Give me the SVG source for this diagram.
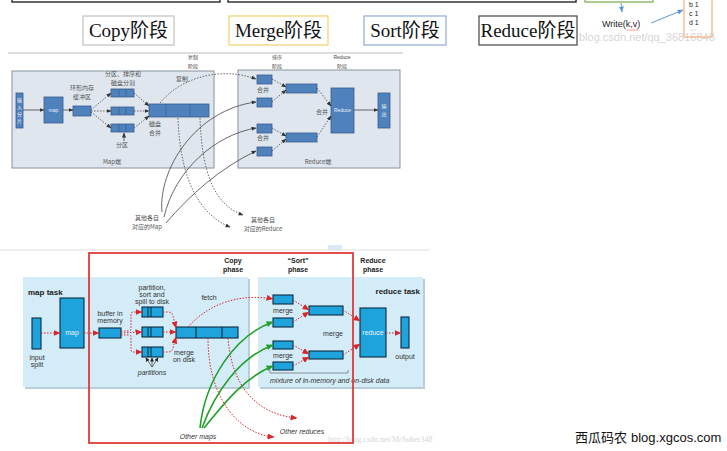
<svg xmlns="http://www.w3.org/2000/svg" width="727" height="451" viewBox="0 0 727 451">
<style>
.zh{font-family:"Liberation Serif","Noto Sans CJK SC",serif;fill:#111}
.big{font-size:19px;text-anchor:middle}
.s6{font-family:"Noto Sans CJK SC","Liberation Sans",sans-serif;font-size:6px;fill:#555;text-anchor:middle}
.s5{font-family:"Liberation Sans","Noto Sans CJK SC",sans-serif;font-size:5px;fill:#444;text-anchor:middle}
.pan1{fill:#dfe6ee;stroke:#8a929c;stroke-width:1}
.b1{fill:#4f81bd;stroke:#385d8a;stroke-width:0.8}
.w1{font-family:"Liberation Sans","Noto Sans CJK SC",sans-serif;font-size:5px;fill:#e8eef8;text-anchor:middle}
.gs{fill:none;stroke:#444;stroke-width:0.8}
.gd{fill:none;stroke:#444;stroke-width:0.8;stroke-dasharray:1.5 1.5}
.pan2{fill:#d3ecf8;stroke:none}
.b2{fill:#1fa3dc;stroke:#0d2b3e;stroke-width:1.1}
.en{font-family:"Liberation Sans Narrow","Liberation Sans",sans-serif;font-size:7px;fill:#333;text-anchor:middle}
.bold{font-weight:bold;fill:#222}
.it{font-style:italic}
.rd{fill:none;stroke:#d9262a;stroke-width:1;stroke-dasharray:1.5 1.5}
.gr{fill:none;stroke:#22a02a;stroke-width:1.6}
.kv{font-family:"Liberation Sans",sans-serif;font-size:7px;fill:#222}
</style>
<defs>
<marker id="ag" markerWidth="5" markerHeight="4" refX="4.5" refY="2" orient="auto" markerUnits="userSpaceOnUse"><path d="M0,0 L5,2 L0,4 z" fill="#333"/></marker>
<marker id="ar" markerWidth="7" markerHeight="6" refX="6.5" refY="3" orient="auto" markerUnits="userSpaceOnUse"><path d="M0,0 L7,3 L0,6 z" fill="#d9262a"/></marker>
<marker id="agr" markerWidth="7" markerHeight="6" refX="6.5" refY="3" orient="auto" markerUnits="userSpaceOnUse"><path d="M0,0 L7,3 L0,6 z" fill="#22a02a"/></marker>
<marker id="ab" markerWidth="6" markerHeight="5" refX="5.5" refY="2.5" orient="auto" markerUnits="userSpaceOnUse"><path d="M0,0 L6,2.5 L0,5 z" fill="#5b9bd5"/></marker>
<marker id="ak" markerWidth="4" markerHeight="4" refX="3.5" refY="2" orient="auto" markerUnits="userSpaceOnUse"><path d="M0,0 L4,2 L0,4 z" fill="#222"/></marker>
</defs>
<rect width="727" height="451" fill="#fff"/>

<!-- top strip -->
<g id="top-strip">
<rect x="12" y="-20" width="208" height="22" fill="#fff" stroke="#333" stroke-width="1.5"/>
<rect x="228" y="-20" width="348" height="22" fill="#fff" stroke="#333" stroke-width="1.5"/>
<rect x="585" y="-20" width="68" height="22" fill="#fff" stroke="#70ad47" stroke-width="1.2"/>
<text x="579" y="41" font-family="Liberation Sans,sans-serif" font-size="11" fill="#d6d6d6">blog.csdn.net/qq_36816848</text>
<rect x="684" y="-10" width="28" height="47" fill="none" stroke="#f4b183" stroke-width="1.2"/>
<text class="kv" x="689" y="7">b 1</text>
<text class="kv" x="689" y="16">c 1</text>
<text class="kv" x="689" y="25">d 1</text>
<g fill="#aaa"><circle cx="691" cy="30" r="0.5"/><circle cx="693" cy="30" r="0.5"/><circle cx="695" cy="30" r="0.5"/></g>
<line x1="621" y1="3" x2="622" y2="12" stroke="#5b9bd5" stroke-width="1" marker-end="url(#ab)"/>
<line x1="651" y1="23" x2="683" y2="10" stroke="#5b9bd5" stroke-width="1" marker-end="url(#ab)"/>
<text x="602" y="27" font-family="Liberation Sans,sans-serif" font-size="9" fill="#222">Write(k,v)</text>
<path d="M626,29.5 l1,1 l1,-1 l1,1 l1,-1 l1,1 l1,-1 l1,1 l1,-1 l1,1 l1,-1 l1,1 l1,-1 l1,1" fill="none" stroke="#e33" stroke-width="0.5"/>
</g>
<g id="phase-copy"><rect x="83" y="16" width="91" height="29" fill="#fff" stroke="#c0c0c0" stroke-width="1.2"/><text class="zh big" x="128.5" y="37">Copy阶段</text></g>
<g id="phase-merge"><rect x="229" y="16" width="99" height="29" fill="#fff" stroke="#f2d06b" stroke-width="1.2"/><text class="zh big" x="278.5" y="37">Merge阶段</text></g>
<g id="phase-sort"><rect x="364" y="16" width="82" height="29" fill="#fff" stroke="#8eaadb" stroke-width="1.2"/><text class="zh big" x="405" y="37">Sort阶段</text></g>
<g id="phase-reduce"><rect x="479" y="16" width="98" height="29" fill="#fff" stroke="#444" stroke-width="1.2"/><text class="zh big" x="528" y="37">Reduce阶段</text></g>
<line x1="8" y1="53" x2="403" y2="53" stroke="#bbb" stroke-width="1"/>

<!-- Chinese diagram -->
<g id="cn-labels">
<text class="s5" x="193" y="59">复制</text><text class="s5" x="193" y="68">阶段</text>
<text class="s5" x="277" y="59">排序</text><text class="s5" x="277" y="68">阶段</text>
<text class="s5" x="342" y="59">Reduce</text><text class="s5" x="342" y="68">阶段</text>
</g>
<g id="cn-map-panel"><rect class="pan1" x="12" y="71" width="202" height="97"/><text class="s6" x="112" y="164">Map端</text></g>
<g id="cn-reduce-panel"><rect class="pan1" x="238" y="70" width="162" height="98"/><text class="s6" x="318" y="164">Reduce端</text></g>
<g id="cn-input"><rect class="b1" x="16" y="93" width="7" height="35"/><text class="w1" x="19.5" y="102">输</text><text class="w1" x="19.5" y="109">入</text><text class="w1" x="19.5" y="116">分</text><text class="w1" x="19.5" y="123">片</text></g>
<g id="cn-map"><rect class="b1" x="44" y="97" width="19" height="26"/><text class="w1" x="53.5" y="112">map</text></g>
<g id="cn-buffer"><rect class="b1" x="73" y="106" width="18" height="10"/><text class="s6" x="82" y="90">环形内存</text><text class="s6" x="82" y="99">缓冲区</text></g>
<g id="cn-parts">
<text class="s6" x="123" y="76">分区、排序和</text><text class="s6" x="123" y="85">磁盘分割</text>
<rect class="b1" x="111" y="89" width="23" height="8"/><line x1="119" y1="89" x2="119" y2="97" stroke="#385d8a" stroke-width="0.6"/><line x1="126" y1="89" x2="126" y2="97" stroke="#385d8a" stroke-width="0.6"/>
<rect class="b1" x="111" y="107" width="23" height="8"/><line x1="119" y1="107" x2="119" y2="115" stroke="#385d8a" stroke-width="0.6"/><line x1="126" y1="107" x2="126" y2="115" stroke="#385d8a" stroke-width="0.6"/>
<rect class="b1" x="111" y="124" width="23" height="8"/><line x1="119" y1="124" x2="119" y2="132" stroke="#385d8a" stroke-width="0.6"/><line x1="126" y1="124" x2="126" y2="132" stroke="#385d8a" stroke-width="0.6"/>
<text class="s6" x="122" y="147">分区</text>
</g>
<g id="cn-merged"><rect class="b1" x="149" y="104" width="60" height="13"/><line x1="166" y1="104" x2="166" y2="117" stroke="#385d8a" stroke-width="0.6"/><line x1="190" y1="104" x2="190" y2="117" stroke="#385d8a" stroke-width="0.6"/><text class="s6" x="155" y="126">磁盘</text><text class="s6" x="155" y="135">合并</text><text class="s6" x="182" y="81">复制</text></g>
<g id="cn-r-small">
<rect class="b1" x="257" y="75" width="15" height="9"/><rect class="b1" x="257" y="98" width="15" height="9"/>
<rect class="b1" x="257" y="124" width="15" height="9"/><rect class="b1" x="257" y="147" width="15" height="9"/>
<text class="s6" x="263" y="92">合并</text><text class="s6" x="263" y="140">合并</text>
</g>
<g id="cn-r-mid"><rect class="b1" x="286" y="84" width="31" height="9"/><rect class="b1" x="286" y="133" width="31" height="9"/><text class="s6" x="322" y="114">合并</text></g>
<g id="cn-reduce"><rect class="b1" x="331" y="88" width="23" height="45"/><text class="w1" x="342.5" y="112">Reduce</text></g>
<g id="cn-output"><rect class="b1" x="378" y="93" width="12" height="35"/><text class="w1" x="384" y="108">输</text><text class="w1" x="384" y="116">出</text></g>
<g id="cn-others"><text class="s6" x="147" y="220">其他各自</text><text class="s6" x="147" y="229">对应的Map</text><text class="s6" x="263" y="222">其他各自</text><text class="s6" x="263" y="231">对应的Reduce</text></g>

<g id="cn-connectors">
<line class="gs" x1="23" y1="110" x2="44" y2="110" marker-end="url(#ag)"/>
<line class="gs" x1="63" y1="110" x2="73" y2="110" marker-end="url(#ag)"/>
<line class="gd" x1="91" y1="110" x2="111" y2="93" marker-end="url(#ag)"/>
<line class="gd" x1="91" y1="111" x2="111" y2="111" marker-end="url(#ag)"/>
<line class="gd" x1="91" y1="112" x2="111" y2="128" marker-end="url(#ag)"/>
<line class="gd" x1="134" y1="93" x2="149" y2="106" marker-end="url(#ag)"/>
<line class="gd" x1="134" y1="111" x2="149" y2="111" marker-end="url(#ag)"/>
<line class="gd" x1="134" y1="128" x2="149" y2="116" marker-end="url(#ag)"/>
<line class="gs" x1="124" y1="141" x2="124" y2="133" marker-end="url(#ag)"/>
<path class="gd" d="M160,103 C180,78 220,66 256,79" marker-end="url(#ag)"/>
<line class="gd" x1="272" y1="79" x2="286" y2="87" marker-end="url(#ag)"/>
<line class="gd" x1="272" y1="102" x2="286" y2="90" marker-end="url(#ag)"/>
<line class="gd" x1="272" y1="128" x2="286" y2="136" marker-end="url(#ag)"/>
<line class="gd" x1="272" y1="151" x2="286" y2="139" marker-end="url(#ag)"/>
<line class="gd" x1="317" y1="88" x2="331" y2="106" marker-end="url(#ag)"/>
<line class="gd" x1="317" y1="137" x2="331" y2="116" marker-end="url(#ag)"/>
<line class="gs" x1="354" y1="110" x2="378" y2="110" marker-end="url(#ag)"/>
<path class="gs" d="M162,212 C158,170 195,110 256,102" marker-end="url(#ag)"/>
<path class="gs" d="M164,217 C175,170 215,135 256,128" marker-end="url(#ag)"/>
<path class="gs" d="M166,223 C190,195 220,168 256,151" marker-end="url(#ag)"/>
<path class="gd" d="M178,118 C180,180 200,215 230,227" marker-end="url(#ag)"/>
<path class="gd" d="M200,118 C202,175 215,205 243,215" marker-end="url(#ag)"/>
</g>

<!-- English diagram -->
<line x1="0" y1="250" x2="430" y2="250" stroke="#ddd" stroke-width="1"/>
<rect x="328" y="245" width="14" height="5" fill="#dbe8f5"/>
<g id="en-map-task"><rect x="25" y="279" width="225" height="110" fill="#b9cdd8"/><rect class="pan2" x="23" y="277" width="225" height="110"/><text class="en bold" x="28" y="295" style="text-anchor:start;font-size:8px">map task</text></g>
<g id="en-reduce-task"><rect x="260" y="279" width="165" height="110" fill="#b9cdd8"/><rect class="pan2" x="258" y="277" width="165" height="110"/><text class="en bold" x="420" y="294" style="text-anchor:end;font-size:8px">reduce task</text></g>
<g id="en-phase-labels">
<text class="en bold" x="233" y="263">Copy</text><text class="en bold" x="233" y="272">phase</text>
<text class="en bold" x="298" y="263">“Sort”</text><text class="en bold" x="298" y="272">phase</text>
<text class="en bold" x="373" y="263">Reduce</text><text class="en bold" x="373" y="272">phase</text>
</g>
<g id="en-input"><rect class="b2" x="32" y="318" width="9" height="31"/><text class="en" x="37" y="360">input</text><text class="en" x="37" y="367">split</text></g>
<g id="en-map"><rect class="b2" x="60" y="298" width="24" height="50"/><text class="en" x="72" y="335" style="fill:#e8f6ff">map</text></g>
<g id="en-buffer"><rect class="b2" x="99" y="328" width="22" height="10"/><text class="en" x="110" y="316">buffer in</text><text class="en" x="110" y="323">memory</text></g>
<g id="en-spills">
<text class="en" x="152" y="290">partition,</text><text class="en" x="152" y="297">sort and</text><text class="en" x="152" y="304">spill to disk</text>
<rect class="b2" x="142" y="307" width="21" height="10"/><line x1="148" y1="307" x2="148" y2="317" stroke="#0d2b3e"/><line x1="151" y1="307" x2="151" y2="317" stroke="#0d2b3e"/>
<rect class="b2" x="142" y="327" width="21" height="10"/><line x1="148" y1="327" x2="148" y2="337" stroke="#0d2b3e"/><line x1="151" y1="327" x2="151" y2="337" stroke="#0d2b3e"/>
<rect class="b2" x="142" y="347" width="21" height="10"/><line x1="148" y1="347" x2="148" y2="357" stroke="#0d2b3e"/><line x1="151" y1="347" x2="151" y2="357" stroke="#0d2b3e"/>
<text class="en it" x="152" y="375">partitions</text>
</g>
<g id="en-merged"><rect class="b2" x="176" y="327" width="62" height="11"/><line x1="196" y1="327" x2="196" y2="338" stroke="#0d2b3e" stroke-width="1.1"/><line x1="222" y1="327" x2="222" y2="338" stroke="#0d2b3e" stroke-width="1.1"/><text class="en" x="184" y="355">merge</text><text class="en" x="184" y="362">on disk</text><text class="en" x="209" y="300">fetch</text></g>
<g id="en-r-small">
<rect class="b2" x="273" y="295" width="20" height="9"/><rect class="b2" x="273" y="318" width="20" height="9"/>
<rect class="b2" x="273" y="341" width="20" height="8"/><rect class="b2" x="273" y="362" width="20" height="8"/>
<text class="en" x="283" y="313">merge</text><text class="en" x="283" y="358">merge</text>
</g>
<g id="en-r-mid"><rect class="b2" x="309" y="306" width="34" height="9"/><rect class="b2" x="309" y="351" width="34" height="8"/><text class="en" x="333" y="336">merge</text></g>
<g id="en-reduce"><rect class="b2" x="360" y="308" width="26" height="49"/><text class="en" x="373" y="335" style="fill:#e8f6ff">reduce</text></g>
<g id="en-output"><rect class="b2" x="401" y="317" width="8" height="31"/><text class="en" x="405" y="359">output</text></g>
<g id="en-mixture"><path d="M270,370 V373 H348 V370" fill="none" stroke="#555" stroke-width="0.6"/><text class="en it" x="270" y="383" style="text-anchor:start">mixture of in-memory and on-disk data</text></g>
<g id="en-others"><text class="en it" x="198" y="439">Other maps</text><text class="en it" x="302" y="434">Other reduces</text></g>
<text x="328" y="442" font-family="Liberation Serif,serif" font-size="8" fill="#d6d6d6">http://blog.csdn.net/MrSuber348</text>
<g id="en-connectors">
<line class="rd" x1="41" y1="333" x2="60" y2="333" marker-end="url(#ar)"/>
<line class="rd" x1="84" y1="333" x2="99" y2="333" marker-end="url(#ar)"/>
<path class="rd" d="M121,331 H129 Q131,331 131,329 V314 Q131,312 133,312 H142" marker-end="url(#ar)"/>
<line class="rd" x1="121" y1="333" x2="142" y2="332" marker-end="url(#ar)"/>
<path class="rd" d="M121,335 H129 Q131,335 131,337 V350 Q131,352 133,352 H142" marker-end="url(#ar)"/>
<path class="rd" d="M163,312 H168 Q172,312 173,316 L176,328" marker-end="url(#ar)"/>
<line class="rd" x1="163" y1="332" x2="176" y2="332" marker-end="url(#ar)"/>
<path class="rd" d="M163,352 H168 Q172,352 173,348 L176,337" marker-end="url(#ar)"/>
<line x1="152" y1="367" x2="146" y2="358" stroke="#222" stroke-width="0.6" marker-end="url(#ak)"/>
<line x1="152" y1="367" x2="152" y2="358" stroke="#222" stroke-width="0.6" marker-end="url(#ak)"/>
<line x1="152" y1="367" x2="158" y2="358" stroke="#222" stroke-width="0.6" marker-end="url(#ak)"/>
<path class="rd" d="M188,327 C212,300 245,294 273,299" marker-end="url(#ar)"/>
<path class="rd" d="M208,338 C208,400 240,434 274,437" marker-end="url(#ar)"/>
<path class="rd" d="M228,338 C232,392 262,415 297,418" marker-end="url(#ar)"/>
<line class="rd" x1="293" y1="300" x2="309" y2="310" marker-end="url(#ar)"/>
<line class="rd" x1="293" y1="322" x2="309" y2="312" marker-end="url(#ar)"/>
<line class="rd" x1="293" y1="345" x2="309" y2="354" marker-end="url(#ar)"/>
<line class="rd" x1="293" y1="366" x2="309" y2="357" marker-end="url(#ar)"/>
<line class="rd" x1="343" y1="310" x2="360" y2="321" marker-end="url(#ar)"/>
<line class="rd" x1="343" y1="355" x2="360" y2="344" marker-end="url(#ar)"/>
<line class="rd" x1="386" y1="333" x2="401" y2="333" marker-end="url(#ar)"/>
<path class="gr" d="M200,428 C205,380 235,335 273,322" marker-end="url(#agr)"/>
<path class="gr" d="M202,428 C215,392 240,357 273,345" marker-end="url(#agr)"/>
<path class="gr" d="M204,428 C225,402 245,377 273,366" marker-end="url(#agr)"/>
</g>
<rect id="copy-frame" x="89" y="253" width="264" height="190" fill="none" stroke="#e03a3a" stroke-width="1.8"/>

<g id="footer"><text x="575" y="442" font-family="Noto Sans CJK SC,sans-serif" font-size="13" fill="#111">西瓜码农</text><text x="631" y="442" font-family="Liberation Sans,sans-serif" font-size="13" fill="#111">blog.xgcos.com</text></g>
</svg>
